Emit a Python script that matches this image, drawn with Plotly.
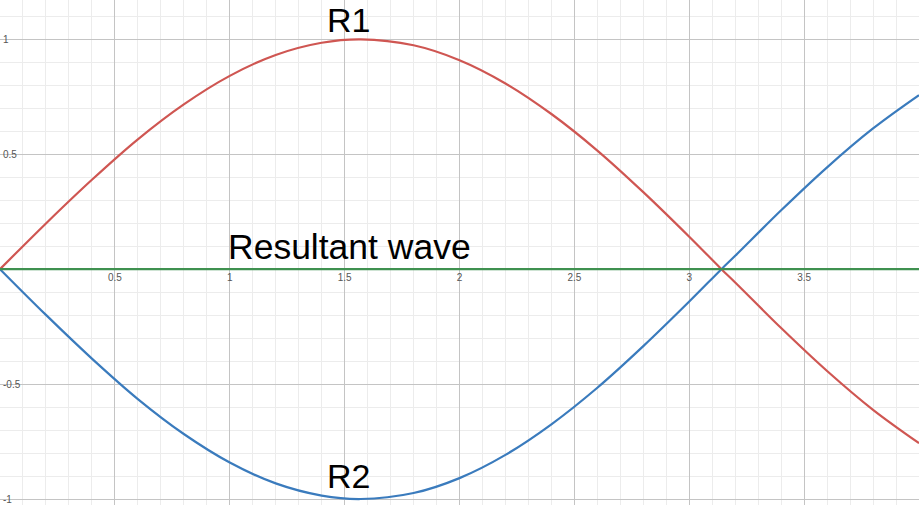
import plotly.graph_objects as go

# values
x_vals = [0, 0.2, 0.4, 0.6, 0.8, 1.0, 1.2, 1.4, 1.57, 1.8, 2.0,
          2.2, 2.4, 2.6, 2.8, 3.0, 3.14, 3.2, 3.4, 3.6, 3.8, 4.0]
r1_vals = [0, 0.199, 0.389, 0.565, 0.717, 0.841, 0.932, 0.985, 1.0, 0.974, 0.909,
           0.808, 0.675, 0.516, 0.335, 0.141, 0.0, -0.058, -0.256, -0.443, -0.612, -0.757]
r2_vals = [-v for v in r1_vals]
res_vals = [0 for v in r1_vals]

x_ticks = [0.5, 1, 1.5, 2, 2.5, 3, 3.5, 4]
x_labels = ["0.5", "1", "1.5", "2", "2.5", "3", "3.5", "4"]
y_ticks = [-1, -0.5, 0.5, 1]
y_labels = ["-1", "-0.5", "0.5", "1"]

y_lo, y_hi = -1.026, 1.171

fig = go.Figure()
fig.add_trace(go.Scatter(x=x_vals, y=r1_vals, mode="lines", line=dict(color="#cf5652", width=2.2, shape="spline")))
fig.add_trace(go.Scatter(x=x_vals, y=r2_vals, mode="lines", line=dict(color="#3a7bbd", width=2.2, shape="spline")))
fig.add_trace(go.Scatter(x=x_vals, y=res_vals, mode="lines", line=dict(color="#3f9150", width=2.2)))

txt = dict(family="Liberation Sans, Arial", size=34, color="black")
# R1 sits right at the top edge, so hang it from the top of the plot
fig.add_annotation(x=1.515, y=1, yref="paper", yanchor="top", text="R1",
                   showarrow=False, font=txt, borderpad=0)
fig.add_annotation(x=1.515, y=-0.90, text="R2", showarrow=False, font=txt)
fig.add_annotation(x=1.52, y=0.098, text="Resultant wave", showarrow=False,
                   font=dict(family="Liberation Sans, Arial", size=35.5, color="black"))

fig.update_layout(
    width=919, height=505,
    margin=dict(l=0, r=0, t=0, b=0),
    paper_bgcolor="white", plot_bgcolor="white",
    showlegend=False,
    xaxis=dict(range=[0, 4], tickvals=x_ticks, ticktext=x_labels,
               showgrid=True, gridcolor="#c4c4c4", gridwidth=1,
               minor=dict(tick0=0, dtick=0.1, showgrid=True, gridcolor="#ececec"),
               zeroline=False, showline=False, ticks="",
               anchor="free", position=(0 - y_lo) / (y_hi - y_lo),
               tickfont=dict(family="Liberation Sans, Arial", size=10, color="#555"),
               ticklabelstandoff=1),
    yaxis=dict(range=[y_lo, y_hi], tickvals=y_ticks, ticktext=y_labels,
               showgrid=True, gridcolor="#c4c4c4", gridwidth=1,
               minor=dict(tick0=0, dtick=0.1, showgrid=True, gridcolor="#ececec"),
               zeroline=False, showline=False, ticks="",
               ticklabelposition="inside",
               tickfont=dict(family="Liberation Sans, Arial", size=10, color="#555")),
)

# drop the page's default body margin so the plot fills the window
fig.write_html("out.html", config={"displayModeBar": False},
               post_script="document.body.style.margin='0';")
